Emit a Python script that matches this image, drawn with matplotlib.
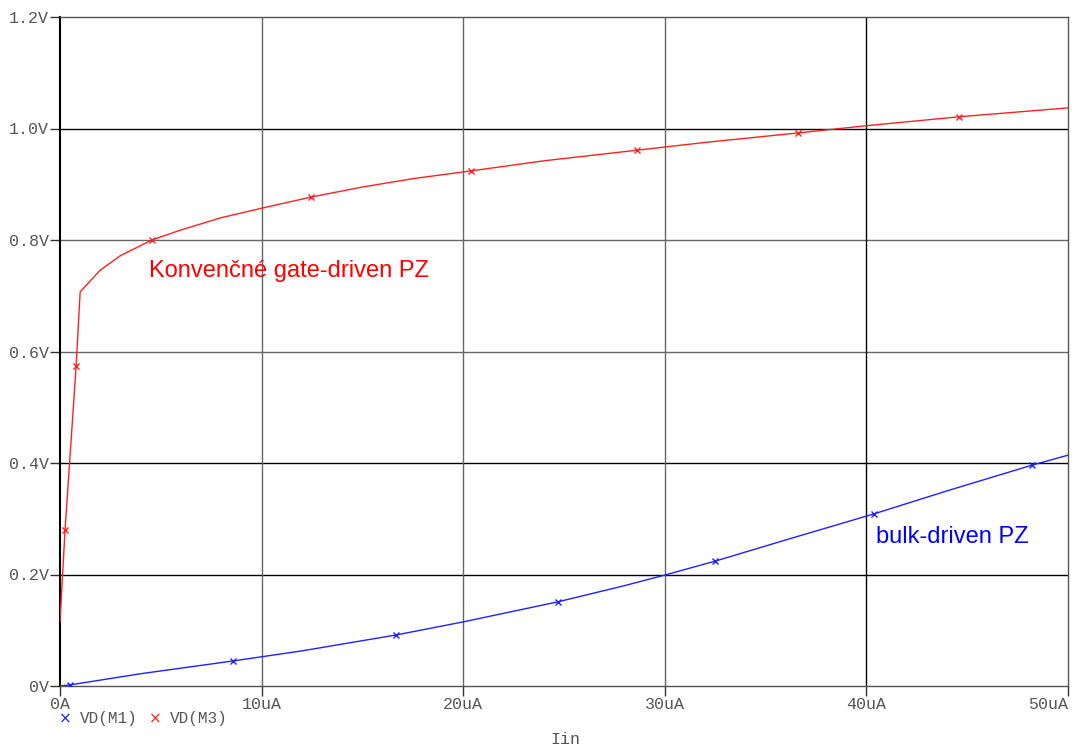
import matplotlib.pyplot as plt
from matplotlib.ticker import FixedLocator

# VD(M3) - conventional gate-driven, Iin in uA, V in volts
iin_m3 = [0, 0.25, 0.8, 1.0, 2.0, 3.0, 4.56, 6, 8, 10, 12.45, 15, 17.5,
          20.4, 24, 28.6, 32, 36.6, 40, 44.6, 50]
vd_m3 = [0.115, 0.28, 0.574, 0.707, 0.746, 0.772, 0.800, 0.818, 0.840, 0.857,
         0.877, 0.895, 0.910, 0.924, 0.942, 0.961, 0.975, 0.992, 1.005, 1.021, 1.037]
marks_m3 = [1, 2, 6, 10, 13, 15, 17, 19]

# VD(M1) - bulk-driven
iin_m1 = [0, 0.5, 4, 8.6, 12, 16.67, 20, 24.7, 28, 30, 32.5, 36, 40.4, 44, 48.2, 50]
vd_m1 = [0, 0.002, 0.022, 0.045, 0.063, 0.0915, 0.115, 0.151, 0.180, 0.199,
         0.224, 0.262, 0.309, 0.350, 0.396, 0.414]
marks_m1 = [1, 3, 5, 7, 10, 12, 14]

x_ticks = [0, 10, 20, 30, 40, 50]
x_labels = ['0A', '10uA', '20uA', '30uA', '40uA', '50uA']
y_ticks = [0, 0.2, 0.4, 0.6, 0.8, 1.0, 1.2]
y_labels = ['0V', '0.2V', '0.4V', '0.6V', '0.8V', '1.0V', '1.2V']

mono = 'Liberation Mono'
tick_col = '#555555'
fs = 12

fig = plt.figure(figsize=(10.72, 7.49), dpi=100)
ax = fig.add_axes([60 / 1072, 63 / 749, 1008 / 1072, 669 / 749])

ax.set_xlim(0, 50)
ax.set_ylim(0, 1.2)

# grid lines, a few drawn darker like the simulator output
dark_h = {1.0, 0.4, 0.2}
for y in y_ticks[1:-1]:
    ax.axhline(y, color='black' if y in dark_h else '#666666', lw=1.0, zorder=1)
for x in x_ticks[1:-1]:
    ax.axvline(x, color='black' if x == 40 else '#666666', lw=1.0, zorder=1)

ax.plot(iin_m3, vd_m3, color='#ff2020', lw=1.0, marker='x', markersize=5,
        markeredgewidth=1.0, markevery=marks_m3, zorder=3)
ax.plot(iin_m1, vd_m1, color='#2020ff', lw=1.0, marker='x', markersize=5,
        markeredgewidth=1.0, markevery=marks_m1, zorder=3)

for side in ['top', 'right', 'bottom']:
    ax.spines[side].set_color('#555555')
    ax.spines[side].set_linewidth(1.0)
ax.spines['left'].set_color('black')
ax.spines['left'].set_linewidth(1.5)

ax.xaxis.set_major_locator(FixedLocator(x_ticks))
ax.yaxis.set_major_locator(FixedLocator(y_ticks))
ax.set_xticklabels(x_labels, fontfamily=mono, fontsize=fs, color=tick_col)
ax.set_yticklabels(y_labels, fontfamily=mono, fontsize=fs, color=tick_col)
ax.get_xticklabels()[-1].set_horizontalalignment('right')
ax.tick_params(axis='both', direction='out', length=7, width=1.0, color='#333333', pad=1)

ax.text(4.4, 0.745, 'Konvenčné gate-driven PZ', color='#ff0000',
        fontfamily='Liberation Sans', fontsize=17, va='center')
ax.text(40.5, 0.268, 'bulk-driven PZ', color='#0000ff',
        fontfamily='Liberation Sans', fontsize=17, va='center')

# legend row under the axis
ly = 1 - 719 / 749
fig.text(65 / 1072, ly, '×', color='#2020ff', fontsize=11, va='center', ha='center')
fig.text(80 / 1072, ly, 'VD(M1)', color=tick_col, fontfamily=mono,
         fontsize=fs - 0.5, va='center')
fig.text(155 / 1072, ly, '×', color='#ff2020', fontsize=11, va='center', ha='center')
fig.text(170 / 1072, ly, 'VD(M3)', color=tick_col, fontfamily=mono,
         fontsize=fs - 0.5, va='center')

fig.text(565 / 1072, 1 - 739 / 749, 'Iin', color=tick_col, fontfamily=mono,
         fontsize=fs, va='center', ha='center')

fig.savefig('out.png', dpi=100)
